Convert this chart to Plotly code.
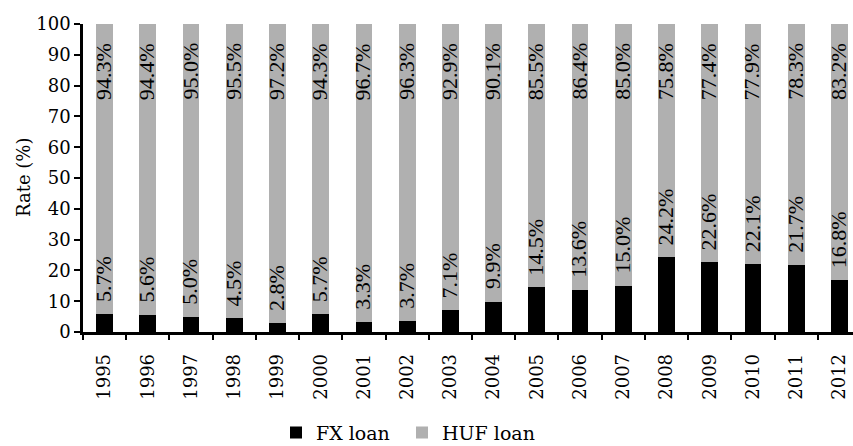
import plotly.graph_objects as go

years = [str(y) for y in range(1995, 2013)]
fx_loan = [5.7, 5.6, 5.0, 4.5, 2.8, 5.7, 3.3, 3.7, 7.1, 9.9, 14.5, 13.6, 15.0, 24.2, 22.6, 22.1, 21.7, 16.8]
huf_loan = [94.3, 94.4, 95.0, 95.5, 97.2, 94.3, 96.7, 96.3, 92.9, 90.1, 85.5, 86.4, 85.0, 75.8, 77.4, 77.9, 78.3, 83.2]

LFONT = "Liberation Serif"
TFONT = "DejaVu Serif"

fig = go.Figure()
fig.add_trace(go.Bar(x=years, y=fx_loan, name="FX loan", legend="legend",
                     marker=dict(color="#000000", line=dict(width=0)), width=0.39))
fig.add_trace(go.Bar(x=years, y=huf_loan, name="HUF loan", legend="legend2",
                     marker=dict(color="#b0b0b0", line=dict(width=0)), width=0.39))

annotations = []
for i, (f, h) in enumerate(zip(fx_loan, huf_loan)):
    annotations.append(dict(x=i, y=f, xref="x", yref="y", text=f"{f:.1f}%", textangle=-90,
                            showarrow=False, xanchor="center", yanchor="bottom", yshift=10, xshift=-1,
                            font=dict(family=LFONT, size=22, color="black")))
    annotations.append(dict(x=i, y=f + h, xref="x", yref="y", text=f"{h:.1f}%", textangle=-90,
                            showarrow=False, xanchor="center", yanchor="top", yshift=-17, xshift=-1,
                            font=dict(family=LFONT, size=22, color="black")))
annotations.append(dict(xref="paper", yref="paper", x=0, y=0.5, xshift=-60, text="Rate (%)",
                        textangle=-90, showarrow=False, xanchor="center", yanchor="middle",
                        font=dict(family=TFONT, size=18, color="black")))

leg_common = dict(orientation="h", xref="container", yref="container", y=0.03,
                  xanchor="left", yanchor="middle", font=dict(family=TFONT, size=19),
                  bgcolor="rgba(0,0,0,0)")

fig.update_layout(
    barmode="stack",
    width=853, height=446,
    margin=dict(l=83, r=0, t=24, b=114),
    paper_bgcolor="white", plot_bgcolor="white",
    font=dict(family=TFONT, size=18, color="black"),
    showlegend=True,
    legend=dict(x=276 / 853, **leg_common),
    legend2=dict(x=402 / 853, **leg_common),
    annotations=annotations,
    xaxis=dict(type="category", range=[-0.5, 17.315], tickson="boundaries", ticks="outside",
               ticklen=5, tickwidth=2, tickcolor="black", showline=True, linewidth=2.5,
               linecolor="black", tickangle=-90, showgrid=False, zeroline=False,
               ticklabelstandoff=12, tickfont=dict(family=TFONT, size=18)),
    yaxis=dict(range=[0, 100], dtick=10, ticks="outside", ticklen=6, tickwidth=2,
               tickcolor="black", showline=True, linewidth=2.5, linecolor="black",
               showgrid=False, zeroline=False, tickfont=dict(family=TFONT, size=18)),
)

fig.write_html("out.html")
